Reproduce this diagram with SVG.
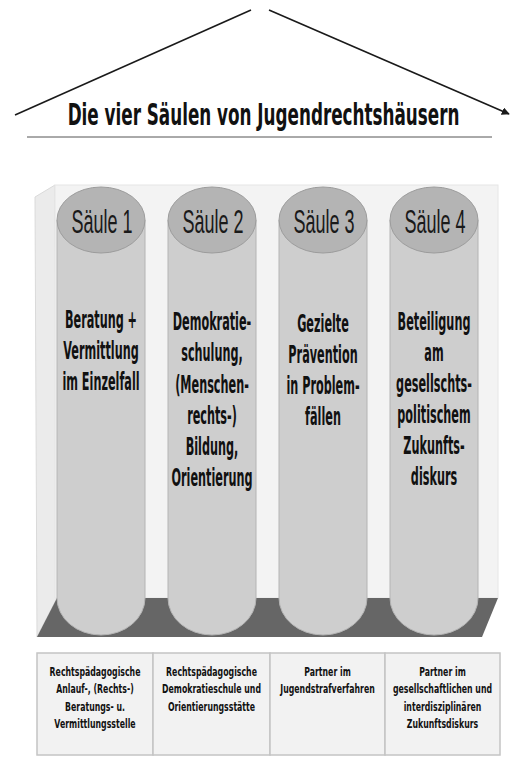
<svg xmlns="http://www.w3.org/2000/svg" width="512" height="767" viewBox="0 0 512 767">
<style>
  .roof{stroke:#1a1a1a;stroke-width:1.6;fill:none}
  .col{fill:#cecece;stroke:#b4b4b4;stroke-width:1}
  .cap{fill:#b4b4b4;stroke:#9c9c9c;stroke-width:1}
  .capt{font-family:"Liberation Sans",Arial,sans-serif;font-size:34px;fill:#1a1a1a;text-anchor:middle}
  .body{font-family:"DejaVu Sans",Verdana,sans-serif;font-weight:bold;font-size:25px;fill:#111;text-anchor:middle}
  .cell{fill:#f2f2f2;stroke:#c4c4c4;stroke-width:1.5}
  .tt{font-family:"DejaVu Sans",Verdana,sans-serif;font-weight:bold;font-size:13px;fill:#111;text-anchor:middle}
  .title{font-family:"DejaVu Sans",Verdana,sans-serif;font-weight:bold;font-size:30px;fill:#111;text-anchor:middle}
</style>
<defs>
  <marker id="arr" viewBox="0 0 10 10" refX="9" refY="5" markerWidth="5" markerHeight="5" orient="auto">
    <path d="M0,0 L10,5 L0,10 z" fill="#1a1a1a"/>
  </marker>
</defs>
<rect width="512" height="767" fill="#ffffff"/>

<g id="roof">
  <line class="roof" x1="15" y1="115" x2="251" y2="10"/>
  <line class="roof" x1="269" y1="10" x2="509" y2="114" marker-end="url(#arr)"/>
  <g transform="translate(263.5,0) scale(0.56,1)">
    <text class="title" x="0" y="125">Die vier Säulen von Jugendrechtshäusern</text>
  </g>
  <line x1="27" y1="137" x2="492" y2="137" stroke="#555" stroke-width="1"/>
</g>

<g id="backdrop">
  <polygon points="35,197 55,185 57,598 37,637" fill="#ebebeb" stroke="#dadada" stroke-width="1"/>
  <rect x="55" y="185" width="443" height="413" fill="#f3f3f3" stroke="#e6e6e6" stroke-width="1"/>
  <polygon points="57,598 498,598 482,637 37,637" fill="#666666"/>
</g>

<g id="saeule1">
  <path class="col" d="M57,220 L57,598 A44,37 0 0 0 145,598 L145,220 Z"/>
  <ellipse class="cap" cx="101" cy="220" rx="44" ry="33"/>
  <g transform="translate(102,0) scale(0.53,1)"><text class="capt" x="0" y="233">Säule 1</text></g>
  <g class="body" transform="translate(101,0) scale(0.45,1)">
    <text x="0" y="328">Beratung +</text>
    <text x="0" y="359">Vermittlung</text>
    <text x="0" y="390">im Einzelfall</text>
  </g>
</g>

<g id="saeule2">
  <path class="col" d="M168,220 L168,598 A44,37 0 0 0 256,598 L256,220 Z"/>
  <ellipse class="cap" cx="212" cy="220" rx="44" ry="33"/>
  <g transform="translate(213,0) scale(0.53,1)"><text class="capt" x="0" y="233">Säule 2</text></g>
  <g class="body" transform="translate(212,0) scale(0.45,1)">
    <text x="0" y="330">Demokratie-</text>
    <text x="0" y="361">schulung,</text>
    <text x="0" y="393">(Menschen-</text>
    <text x="0" y="424">rechts-)</text>
    <text x="0" y="455">Bildung,</text>
    <text x="0" y="486">Orientierung</text>
  </g>
</g>

<g id="saeule3">
  <path class="col" d="M279,220 L279,598 A44,37 0 0 0 367,598 L367,220 Z"/>
  <ellipse class="cap" cx="323" cy="220" rx="44" ry="33"/>
  <g transform="translate(324,0) scale(0.53,1)"><text class="capt" x="0" y="233">Säule 3</text></g>
  <g class="body" transform="translate(323,0) scale(0.45,1)">
    <text x="0" y="332">Gezielte</text>
    <text x="0" y="363">Prävention</text>
    <text x="0" y="394">in Problem-</text>
    <text x="0" y="425">fällen</text>
  </g>
</g>

<g id="saeule4">
  <path class="col" d="M390,220 L390,598 A44,37 0 0 0 478,598 L478,220 Z"/>
  <ellipse class="cap" cx="434" cy="220" rx="44" ry="33"/>
  <g transform="translate(435,0) scale(0.53,1)"><text class="capt" x="0" y="233">Säule 4</text></g>
  <g class="body" transform="translate(434,0) scale(0.45,1)">
    <text x="0" y="330">Beteiligung</text>
    <text x="0" y="361">am</text>
    <text x="0" y="392">gesellschts-</text>
    <text x="0" y="423">politischem</text>
    <text x="0" y="454">Zukunfts-</text>
    <text x="0" y="485">diskurs</text>
  </g>
</g>

<g id="tabelle">
  <g id="zelle1">
    <rect class="cell" x="37" y="653" width="116" height="102"/>
    <g class="tt" transform="translate(95,0) scale(0.6,1)">
      <text x="0" y="676">Rechtspädagogische</text>
      <text x="0" y="693.5">Anlauf-, (Rechts-)</text>
      <text x="0" y="711">Beratungs- u.</text>
      <text x="0" y="728.5">Vermittlungsstelle</text>
    </g>
  </g>
  <g id="zelle2">
    <rect class="cell" x="153" y="653" width="117" height="102"/>
    <g class="tt" transform="translate(211.5,0) scale(0.6,1)">
      <text x="0" y="676">Rechtspädagogische</text>
      <text x="0" y="693.5">Demokratieschule und</text>
      <text x="0" y="711">Orientierungsstätte</text>
    </g>
  </g>
  <g id="zelle3">
    <rect class="cell" x="270" y="653" width="115" height="102"/>
    <g class="tt" transform="translate(327.5,0) scale(0.6,1)">
      <text x="0" y="676">Partner im</text>
      <text x="0" y="693.5">Jugendstrafverfahren</text>
    </g>
  </g>
  <g id="zelle4">
    <rect class="cell" x="385" y="653" width="115" height="102"/>
    <g class="tt" transform="translate(442.5,0) scale(0.6,1)">
      <text x="0" y="676">Partner im</text>
      <text x="0" y="693.5">gesellschaftlichen und</text>
      <text x="0" y="711">interdisziplinären</text>
      <text x="0" y="728.5">Zukunftsdiskurs</text>
    </g>
  </g>
</g>
</svg>
